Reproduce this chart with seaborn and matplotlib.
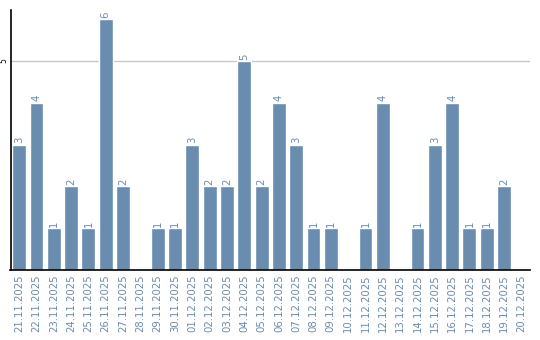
import matplotlib
matplotlib.use("Agg")
import matplotlib.pyplot as plt
import seaborn as sns
import pandas as pd

dates = ["21.11.2025", "22.11.2025", "23.11.2025", "24.11.2025", "25.11.2025",
         "26.11.2025", "27.11.2025", "28.11.2025", "29.11.2025", "30.11.2025",
         "01.12.2025", "02.12.2025", "03.12.2025", "04.12.2025", "05.12.2025",
         "06.12.2025", "07.12.2025", "08.12.2025", "09.12.2025", "10.12.2025",
         "11.12.2025", "12.12.2025", "13.12.2025", "14.12.2025", "15.12.2025",
         "16.12.2025", "17.12.2025", "18.12.2025", "19.12.2025", "20.12.2025"]
counts = [3, 4, 1, 2, 1, 6, 2, 0, 1, 1,
          3, 2, 2, 5, 2, 4, 3, 1, 1, 0,
          1, 4, 0, 1, 3, 4, 1, 1, 2, 0]

sns.set_style("white")
plt.rcParams['font.family'] = ['DejaVu Sans']

df = pd.DataFrame({"date": dates, "count": counts})
bar_color = "#6a8caf"
text_color = "#6a8caf"

fig = plt.figure(figsize=(5.4, 3.4), dpi=100)
ax = fig.add_axes([10.5/540, 70/340, 519.5/540, 260/340])
sns.barplot(data=df, x="date", y="count", color=bar_color, width=0.8,
            saturation=1, ax=ax, zorder=2)

ax.set_xlim(-0.5, len(dates) - 0.5)
ax.set_ylim(0, 6.22)
ax.set_yticks([5])
ax.set_yticklabels(["5"], rotation=90, va="center", ha="right", fontsize=5.5,
                   color="black")
ax.yaxis.grid(True, color="#c8c8c8", linewidth=1, zorder=0)
ax.set_axisbelow(True)
ax.tick_params(axis="y", length=0, pad=1.5)
ax.tick_params(axis="x", length=0, pad=3)
ax.set_xticks(range(len(dates)))
ax.set_xticklabels(dates, rotation=90, fontsize=7.3, color=text_color)
ax.set_xlabel("")
ax.set_ylabel("")

for s in ["top", "right"]:
    ax.spines[s].set_visible(False)
for s in ["left", "bottom"]:
    ax.spines[s].set_visible(True)
    ax.spines[s].set_color("black")
    ax.spines[s].set_linewidth(1.2)

for i, v in enumerate(counts):
    if v > 0:
        ax.annotate(str(v), (i, v), xytext=(0, 1), textcoords="offset points",
                    rotation=90, ha="center", va="bottom", fontsize=7.3,
                    color=text_color)

fig.savefig("out.png", dpi=100)
